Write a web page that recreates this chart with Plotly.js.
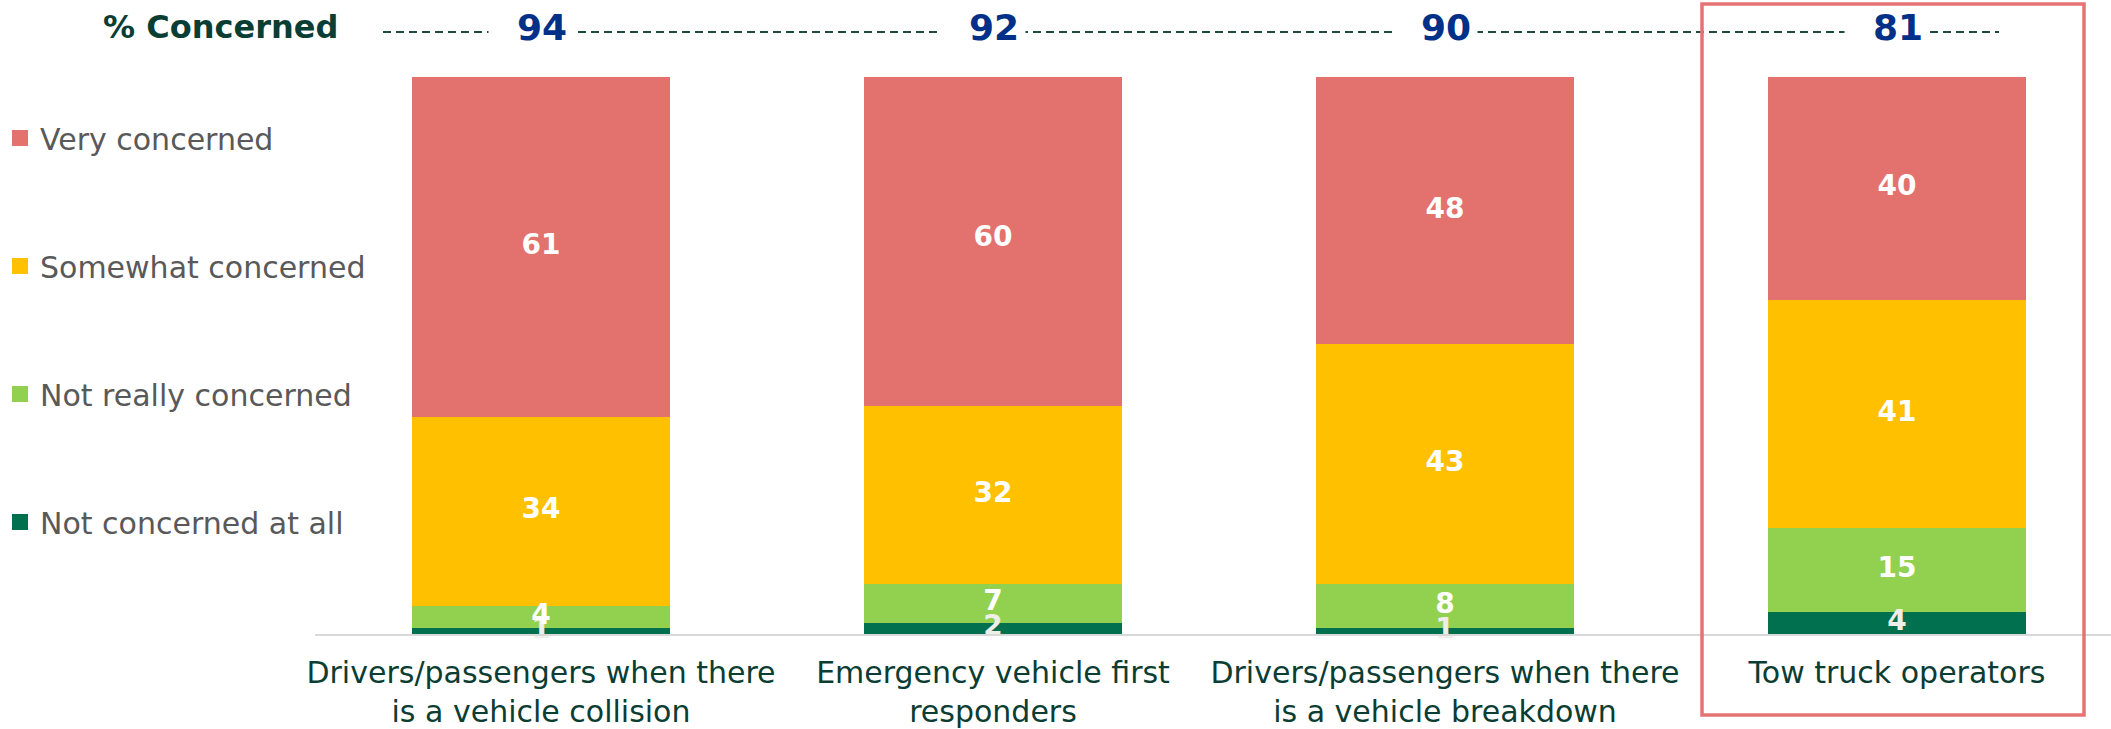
<!DOCTYPE html>
<html>
<head>
<meta charset="utf-8">
<script src="https://cdn.plot.ly/plotly-3.0.1.min.js"></script>
<style>
html,body{margin:0;padding:0;background:#fff;}
#chart{width:2111px;height:729px;}
</style>
</head>
<body>
<div id="chart"></div>
<script>
// ---- data ----
const categories = [
  "Drivers/passengers when there<br>is a vehicle collision",
  "Emergency vehicle first<br>responders",
  "Drivers/passengers when there<br>is a vehicle breakdown",
  "Tow truck operators"
];
const notAtAll   = [1, 2, 1, 4];
const notReally  = [4, 7, 8, 15];
const somewhat   = [34, 32, 43, 41];
const very       = [61, 60, 48, 40];
const pctConcerned = [94, 92, 90, 81];
const seriesNames = ["Not concerned at all", "Not really concerned", "Somewhat concerned", "Very concerned"];
const seriesColors = ["#00704F", "#92D050", "#FFC000", "#E3716D"];
const labelColors = ["#EFEEE8", "#FFFFFF", "#FFFFFF", "#FFFFFF"];

const FONT = "DejaVu Sans, Verdana, sans-serif";
const series = [notAtAll, notReally, somewhat, very];
const barWidth = 0.57;

const traces = [];
// stacked bars
series.forEach((vals, i) => {
  traces.push({
    type: "bar", x: categories, y: vals, name: seriesNames[i],
    marker: {color: seriesColors[i], line: {width: 0}},
    width: barWidth, showlegend: false, hoverinfo: "skip"
  });
});
// value labels at segment midpoints
let base = categories.map(() => 0);
series.forEach((vals, i) => {
  const mids = vals.map((v, k) => base[k] + v / 2);
  traces.push({
    type: "scatter", mode: "text", x: categories, y: mids,
    text: vals.map(String), textposition: "middle center",
    textfont: {family: FONT, size: 28, color: labelColors[i], weight: 700},
    cliponaxis: false, showlegend: false, hoverinfo: "skip"
  });
  base = base.map((b, k) => b + vals[k]);
});
// legend entries (top to bottom)
[3, 2, 1, 0].forEach(i => {
  traces.push({
    type: "scatter", mode: "markers", x: [null], y: [null], name: seriesNames[i],
    legendgroup: "g" + (3 - i),
    marker: {symbol: "square", size: 16, color: seriesColors[i]},
    showlegend: true, hoverinfo: "skip"
  });
});

const L = 315, T = 77, B = 95, W = 2111, H = 729;
const plotW = W - L, plotH = H - T - B;
const px2x = p => (p - L) / plotW;
const py2y = p => (H - B - p) / plotH;

const annotations = [{
  text: "% Concerned", xref: "paper", yref: "paper",
  x: px2x(220), y: py2y(27), xanchor: "center", yanchor: "middle",
  showarrow: false, font: {family: FONT, size: 32, color: "#0A3D33", weight: 700}
}];
pctConcerned.forEach((v, i) => {
  annotations.push({
    text: String(v), xref: "x", yref: "paper", x: categories[i], y: py2y(27),
    xanchor: "center", yanchor: "middle", showarrow: false,
    width: 72, height: 28, align: "right", valign: "middle", xshift: -10, borderpad: 6,
    bgcolor: "#FFFFFF",
    font: {family: FONT, size: 36, color: "#003087", weight: 700}
  });
});

const shapes = [
  {type: "line", xref: "paper", yref: "paper", x0: px2x(383), x1: px2x(1999),
   y0: py2y(32), y1: py2y(32), line: {color: "#1E4A3C", width: 1.8, dash: "8px,5px"}, layer: "above"},
  {type: "rect", xref: "paper", yref: "paper", x0: px2x(1702), x1: px2x(2084),
   y0: py2y(715), y1: py2y(4), line: {color: "#E57373", width: 3.5}, fillcolor: "rgba(0,0,0,0)", layer: "above"}
];

const layout = {
  width: W, height: H,
  margin: {l: L, r: 0, t: T, b: B, pad: 0, autoexpand: false},
  paper_bgcolor: "#FFFFFF", plot_bgcolor: "#FFFFFF",
  barmode: "stack",
  font: {family: FONT},
  xaxis: {
    type: "category", range: [-0.5, -0.5 + plotW / 452],
    showline: true, linecolor: "#D9D9D9", linewidth: 2,
    ticks: "", showgrid: false, zeroline: false, fixedrange: true,
    ticklabelstandoff: 11, automargin: false,
    tickfont: {family: FONT, size: 30, color: "#0B3D33"}
  },
  yaxis: {range: [0, 100], visible: false, showgrid: false, zeroline: false, fixedrange: true, automargin: false},
  showlegend: true,
  legend: {
    xref: "container", yref: "container", x: 0, y: 1 - 112 / H,
    xanchor: "left", yanchor: "top", maxheight: 700,
    font: {family: FONT, size: 30, color: "#595959"},
    tracegroupgap: 86, itemsizing: "trace", bgcolor: "rgba(0,0,0,0)",
    traceorder: "grouped"
  },
  annotations: annotations,
  shapes: shapes
};

Plotly.newPlot("chart", traces, layout, {displayModeBar: false, staticPlot: true});
</script>
</body>
</html>
